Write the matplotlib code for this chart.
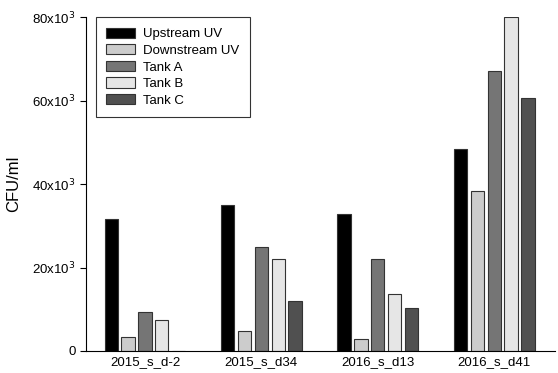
import numpy as np
import matplotlib.pyplot as plt

plt.rcParams['font.family'] = ['Liberation Sans', 'DejaVu Sans']

groups = ['2015_s_d-2', '2015_s_d34', '2016_s_d13', '2016_s_d41']
series = ['Upstream UV', 'Downstream UV', 'Tank A', 'Tank B', 'Tank C']
upstream = [31700, 35000, 32800, 48400]
downstream = [3400, 4800, 2900, 38300]
tank_a = [9300, 25000, 22000, 67000]
tank_b = [7400, 22000, 13600, 80000]
tank_c = [0, 12000, 10300, 60600]
colors = ['#000000', '#cccccc', '#757575', '#e6e6e6', '#505050']

values = [upstream, downstream, tank_a, tank_b, tank_c]

fig = plt.figure(figsize=(5.58, 3.73), dpi=100)
ax = fig.add_axes([0.154, 0.059, 0.841, 0.895])

x = np.arange(len(groups))
pitch = 0.1445
width = 0.115
for i, (name, vals, c) in enumerate(zip(series, values, colors)):
    ax.bar(x + (i - 2) * pitch, vals, width, color=c, edgecolor='#333333',
           linewidth=0.8, label=name)

ax.set_xlim(-0.507, 3.524)
ax.set_ylim(0, 80000)
ax.set_yticks([0, 20000, 40000, 60000, 80000])
ax.set_yticklabels(['0', r'20x10$^3$', r'40x10$^3$', r'60x10$^3$', r'80x10$^3$'])
ax.set_xticks(x)
ax.set_xticklabels(groups)
ax.tick_params(axis='x', length=0, labelsize=9.5, pad=4)
ax.tick_params(axis='y', direction='out', length=4, labelsize=9.5)
ax.set_ylabel('CFU/ml', fontsize=12, labelpad=8)
ax.spines['top'].set_visible(False)
ax.spines['right'].set_visible(False)

leg = ax.legend(loc='upper left', bbox_to_anchor=(0.021, 1.0), fontsize=9.5,
                fancybox=False, edgecolor='black', handlelength=2.2,
                handleheight=0.8, labelspacing=0.3, borderpad=0.8,
                borderaxespad=0, handletextpad=0.6)
leg.get_frame().set_linewidth(0.8)

fig.savefig('out.png', dpi=100)
